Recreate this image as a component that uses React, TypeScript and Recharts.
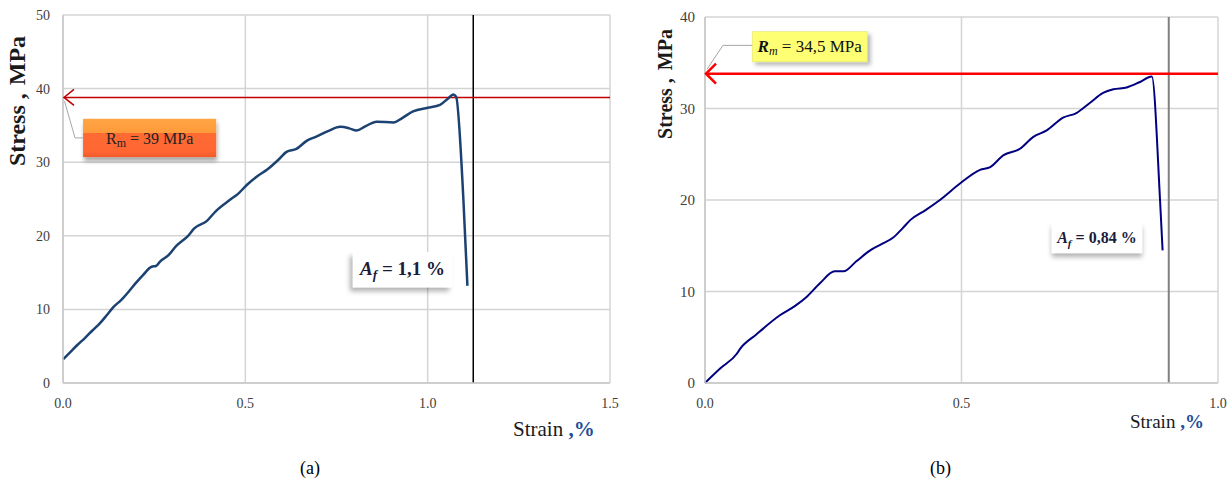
import {
  LineChart,
  Line,
  XAxis,
  YAxis,
  CartesianGrid,
  ReferenceLine,
  ReferenceArea,
  ReferenceDot,
} from "recharts";

// (a) stress-strain curve
const strainA = [
  0, 0.02, 0.04, 0.06, 0.08, 0.101, 0.12, 0.138, 0.16, 0.18, 0.2, 0.22, 0.243, 0.255,
  0.266, 0.29, 0.31, 0.343, 0.36, 0.394, 0.42, 0.458, 0.48, 0.504, 0.53, 0.56, 0.59,
  0.613, 0.64, 0.668, 0.696, 0.73, 0.76, 0.785, 0.805, 0.83, 0.86, 0.906, 0.93, 0.96,
  1.0, 1.034, 1.057, 1.07, 1.078, 1.098, 1.109,
];
const stressA = [
  3.2, 4.2, 5.2, 6.1, 7.1, 8.1, 9.2, 10.3, 11.3, 12.4, 13.6, 14.7, 15.8, 15.9,
  16.5, 17.4, 18.6, 20.0, 21.0, 22.0, 23.4, 24.9, 25.7, 26.9, 28.0, 29.0, 30.3,
  31.4, 31.8, 32.9, 33.5, 34.3, 34.8, 34.6, 34.3, 34.9, 35.5, 35.4, 36.0, 36.9,
  37.4, 37.8, 38.7, 39.2, 38.9, 24.9, 13.2,
];

// (b) stress-strain curve
const strainB = [
  0, 0.03, 0.062, 0.068, 0.1, 0.146, 0.175, 0.198, 0.224, 0.253, 0.27, 0.295, 0.322,
  0.345, 0.367, 0.385, 0.4, 0.43, 0.458, 0.497, 0.536, 0.556, 0.582, 0.614, 0.64,
  0.666, 0.698, 0.724, 0.75, 0.776, 0.796, 0.822, 0.848, 0.871, 0.887, 0.892,
];
const stressB = [
  0, 1.6, 3.2, 3.7, 5.3, 7.4, 8.4, 9.4, 10.9, 12.2, 12.2, 13.3, 14.5,
  15.2, 15.9, 16.9, 17.8, 18.9, 20.0, 21.8, 23.3, 23.6, 24.9, 25.6, 26.9,
  27.6, 29.0, 29.5, 30.6, 31.7, 32.1, 32.3, 32.9, 33.5, 20.0, 14.5,
];

const xTicksA = [0, 0.5, 1, 1.5];
const yTicksA = [0, 10, 20, 30, 40, 50];
const xTicksB = [0, 0.5, 1];
const yTicksB = [0, 10, 20, 30, 40];

const rmA = 38.8;
const afA = 1.125;
const rmB = 33.8;
const afB = 0.904;

const dataA = strainA.map((s, i) => ({ strain: s, stress: stressA[i] }));
const dataB = strainB.map((s, i) => ({ strain: s, stress: stressB[i] }));

const serif = "Liberation Serif, DejaVu Serif, serif";
const tickStyle = { fill: "#404040", fontSize: 14, fontFamily: serif };
const fmt1 = (v: number) => v.toFixed(1);

function arrowHead(color: string, w: number, len: number, spread: number) {
  return (p: any) => (
    <polyline
      points={`${p.cx + len},${p.cy - spread} ${p.cx + 1},${p.cy} ${p.cx + len},${p.cy + spread}`}
      fill="none"
      stroke={color}
      strokeWidth={w}
    />
  );
}

function RmBoxA(p: any) {
  const { x, y, width, height } = p;
  return (
    <g>
      <rect x={x} y={y} width={width} height={height} fill="url(#orangeGrad)" filter="url(#shadowA1)" />
      <text
        x={x + width / 2}
        y={y + height / 2 + 6}
        textAnchor="middle"
        fontFamily={serif}
        fontSize={16}
        fill="#222"
      >
        R<tspan fontSize={12} dy={3}>m</tspan>
        <tspan dy={-3}> = 39 MPa</tspan>
      </text>
    </g>
  );
}

function AfBox(p: any, label: string, size: number, shadow: string) {
  const { x, y, width, height } = p;
  return (
    <g>
      <rect x={x} y={y} width={width} height={height} fill="#fff" filter={`url(#${shadow})`} />
      <text
        x={x + width / 2}
        y={y + height / 2 + size * 0.3}
        textAnchor="middle"
        fontFamily={serif}
        fontSize={size}
        fontWeight="bold"
        fill="#1b1b3a"
      >
        <tspan fontStyle="italic">A</tspan>
        <tspan fontStyle="italic" fontSize={size * 0.7} dy={4}>f</tspan>
        <tspan dy={-4}>{label}</tspan>
      </text>
    </g>
  );
}

function RmBoxB(p: any) {
  const { x, y, width, height } = p;
  return (
    <g>
      <rect x={x} y={y} width={width} height={height} fill="#ffff73" stroke="#e0e070" strokeWidth={0.5} filter="url(#shadowB1)" />
      <text
        x={x + width / 2}
        y={y + height / 2 + 5}
        textAnchor="middle"
        fontFamily={serif}
        fontSize={17}
        fill="#111"
      >
        <tspan fontStyle="italic" fontWeight="bold">R</tspan>
        <tspan fontStyle="italic" fontSize={12} dy={3}>m</tspan>
        <tspan dy={-3}> =  34,5 MPa</tspan>
      </text>
    </g>
  );
}

function ChartA() {
  return (
    <LineChart
      width={630}
      height={440}
      data={dataA}
      margin={{ top: 15, right: 20, bottom: 0, left: 0 }}
    >
      <defs>
        <linearGradient id="orangeGrad" x1="0" y1="0" x2="0" y2="1">
          <stop offset="0" stopColor="#ffa544" />
          <stop offset="0.36" stopColor="#ff9a3c" />
          <stop offset="0.38" stopColor="#ff6a33" />
          <stop offset="0.86" stopColor="#ff6633" />
          <stop offset="1" stopColor="#f05a28" />
        </linearGradient>
        <filter id="shadowA1" x="-20%" y="-30%" width="140%" height="170%">
          <feDropShadow dx="1" dy="4" stdDeviation="2" floodColor="#000" floodOpacity="0.35" />
        </filter>
        <filter id="shadowA2" x="-20%" y="-30%" width="140%" height="170%">
          <feDropShadow dx="-3" dy="4" stdDeviation="2.5" floodColor="#000" floodOpacity="0.3" />
        </filter>
      </defs>
      <CartesianGrid stroke="#d4d4d4" strokeWidth={1.5} />
      <XAxis
        dataKey="strain"
        type="number"
        domain={[0, 1.5]}
        ticks={xTicksA}
        tickFormatter={fmt1}
        tick={tickStyle}
        tickSize={0}
        tickMargin={15}
        axisLine={{ stroke: "#c8c8c8", strokeWidth: 1.5 }}
        height={57}
      />
      <YAxis
        type="number"
        domain={[0, 50]}
        ticks={yTicksA}
        tick={tickStyle}
        tickSize={0}
        tickMargin={13}
        axisLine={{ stroke: "#c8c8c8", strokeWidth: 1.5 }}
        width={63}
      />
      <ReferenceLine x={afA} stroke="#000" strokeWidth={1.5} />
      <ReferenceLine y={rmA} stroke="#c00000" strokeWidth={1.5} />
      <ReferenceDot x={0} y={rmA} shape={arrowHead("#c00000", 1.5, 11, 8)} />
      <ReferenceLine
        segment={[{ x: 0.004, y: 38.3 }, { x: 0.033, y: 33.3 }]}
        stroke="#a6a6a6"
        strokeWidth={1}
      />
      <ReferenceLine
        segment={[{ x: 0.033, y: 33.3 }, { x: 0.055, y: 33.3 }]}
        stroke="#a6a6a6"
        strokeWidth={1}
      />
      <ReferenceArea x1={0.055} x2={0.42} y1={30.7} y2={35.9} shape={RmBoxA} />
      <ReferenceArea
        x1={0.795}
        x2={1.067}
        y1={13.0}
        y2={17.8}
        shape={(p: any) => AfBox(p, " = 1,1 %", 19, "shadowA2")}
      />
      <Line
        type="monotone"
        dataKey="stress"
        stroke="#1c4272"
        strokeWidth={2.5}
        dot={false}
        isAnimationActive={false}
      />
    </LineChart>
  );
}

function ChartB() {
  return (
    <LineChart
      width={592}
      height={440}
      data={dataB}
      margin={{ top: 17, right: 14, bottom: 0, left: 0 }}
    >
      <defs>
        <filter id="shadowB1" x="-20%" y="-30%" width="140%" height="170%">
          <feDropShadow dx="3" dy="3" stdDeviation="2" floodColor="#000" floodOpacity="0.3" />
        </filter>
        <filter id="shadowB2" x="-20%" y="-30%" width="140%" height="170%">
          <feDropShadow dx="0" dy="4" stdDeviation="2.5" floodColor="#000" floodOpacity="0.3" />
        </filter>
      </defs>
      <CartesianGrid stroke="#d4d4d4" strokeWidth={1.5} />
      <XAxis
        dataKey="strain"
        type="number"
        domain={[0, 1]}
        ticks={xTicksB}
        tickFormatter={fmt1}
        tick={tickStyle}
        tickSize={0}
        tickMargin={15}
        axisLine={{ stroke: "#c8c8c8", strokeWidth: 1.5 }}
        height={57}
      />
      <YAxis
        type="number"
        domain={[0, 40]}
        ticks={yTicksB}
        tick={{ ...tickStyle, fontSize: 15 }}
        tickSize={0}
        tickMargin={10}
        axisLine={{ stroke: "#c8c8c8", strokeWidth: 1.5 }}
        width={65}
      />
      <ReferenceLine x={afB} stroke="#808080" strokeWidth={2} />
      <ReferenceLine y={rmB} stroke="#ff0000" strokeWidth={2.5} />
      <ReferenceDot x={0} y={rmB} shape={arrowHead("#ff0000", 2.5, 11, 10)} />
      <ReferenceLine
        segment={[{ x: 0.004, y: 34.3 }, { x: 0.035, y: 36.9 }]}
        stroke="#a6a6a6"
        strokeWidth={1}
      />
      <ReferenceLine
        segment={[{ x: 0.035, y: 36.9 }, { x: 0.092, y: 36.9 }]}
        stroke="#a6a6a6"
        strokeWidth={1}
      />
      <ReferenceArea x1={0.092} x2={0.316} y1={35.1} y2={38.4} shape={RmBoxB} />
      <ReferenceArea
        x1={0.676}
        x2={0.852}
        y1={14.2}
        y2={17.5}
        shape={(p: any) => AfBox(p, " = 0,84 %", 16, "shadowB2")}
      />
      <Line
        type="monotone"
        dataKey="stress"
        stroke="#000080"
        strokeWidth={2}
        dot={false}
        isAnimationActive={false}
      />
    </LineChart>
  );
}

export default function App() {
  return (
    <div
      style={{
        position: "absolute",
        left: 0,
        top: 0,
        width: 1232,
        height: 482,
        background: "#fff",
        fontFamily: serif,
      }}
    >
      <div style={{ position: "absolute", left: 0, top: 0 }}>
        <ChartA />
      </div>
      <div style={{ position: "absolute", left: 640, top: 0 }}>
        <ChartB />
      </div>
      <svg
        width={1232}
        height={482}
        style={{ position: "absolute", left: 0, top: 0, pointerEvents: "none" }}
      >
        <text
          transform="translate(25,101) rotate(-90)"
          textAnchor="middle"
          fontFamily={serif}
          fontSize={24}
          fontWeight="bold"
          fill="#1a1a1a"
        >
          Stress ,<tspan dx={8}>MPa</tspan>
        </text>
        <text
          transform="translate(672,84) rotate(-90)"
          textAnchor="middle"
          fontFamily={serif}
          fontSize={20}
          fontWeight="bold"
          fill="#1a1a1a"
        >
          Stress ,<tspan dx={8}>MPa</tspan>
        </text>
        <text x={513} y={436} fontFamily={serif} fontSize={21} fill="#1a1a1a">
          Strain
          <tspan fontWeight="bold" fill="#1f4e9a"> ,%</tspan>
        </text>
        <text x={1130} y={428} fontFamily={serif} fontSize={19} fill="#1a1a1a">
          Strain
          <tspan fontWeight="bold" fill="#1f4e9a"> ,%</tspan>
        </text>
        <text x={300} y={474} fontFamily={serif} fontSize={18} fill="#000">
          (a)
        </text>
        <text x={930} y={474} fontFamily={serif} fontSize={18} fill="#000">
          (b)
        </text>
      </svg>
    </div>
  );
}
